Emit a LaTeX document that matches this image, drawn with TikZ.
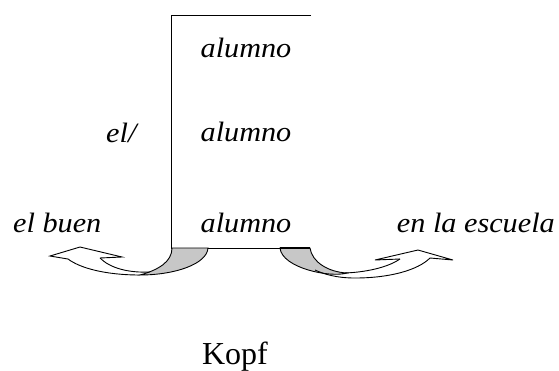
\documentclass[tikz,border=0pt]{standalone}
\usepackage{fontspec}
\setmainfont{Liberation Serif}
\newfontfamily\wideit{Liberation Serif Italic}[FakeStretch=1.08]
\begin{document}
\begin{tikzpicture}[x=1pt,y=-1pt,
  word/.style={font=\wideit\fontsize{28}{30}\selectfont, inner sep=0pt, anchor=base},
  head/.style={font=\fontsize{32}{34}\selectfont, inner sep=0pt, anchor=base},
  ln/.style={line width=1pt, black},
  band/.style={line width=0.9pt, black},
  shade/.style={band, fill=black!22}]
\useasboundingbox (0,0) rectangle (559,370);
% frame
\coordinate (tr) at (311,15);
\coordinate (tl) at (171,15);
\coordinate (bl) at (171,248);
\coordinate (br) at (310,248);
\draw[ln] (tr) -- (tl) -- (bl) -- (br);
% texts
\node[word] (a1) at (246,57) {alumno};
\node[word] (a2) at (246,141) {alumno};
\node[word] (a3) at (246,232) {alumno};
\node[word, anchor=base west] (el) at (106,142) {el/};
\node[word, anchor=base west] (eb) at (13,232) {el buen};
\node[word, anchor=base east] (es) at (555,232) {en la escuela};
\node[head] (kopf) at (235,364) {Kopf};
% left curved arrow
\filldraw[shade] (172,248) -- (208,248) .. controls (207,264) and (175,275) .. (140,275)
   .. controls (158,270) and (172,262) .. (172,248) -- cycle;
\draw[band] (140,275) .. controls (105,275) and (80,268) .. (68,259);
\draw[band] (100,258) .. controls (110,268) and (128,273) .. (150,272);
\draw[band, line join=miter] (68,259) -- (50,256) -- (80,247) -- (122,257) -- (100,258);
% right curved arrow
\filldraw[shade] (280,248) -- (310,248) .. controls (312,262) and (328,272) .. (347,273)
   .. controls (330,278) and (282,268) .. (280,248) -- cycle;
\draw[line width=2pt] (280,248) -- (310,248);
\draw[band] (315,270) .. controls (330,277) and (345,278) .. (355,278)
   .. controls (390,278) and (418,270) .. (430,258);
\draw[band] (345,273) .. controls (370,272) and (390,266) .. (400,259);
\draw[band, line join=miter] (400,259) -- (375,260) -- (418,250) -- (453,260) -- (430,258);
\end{tikzpicture}
\end{document}
